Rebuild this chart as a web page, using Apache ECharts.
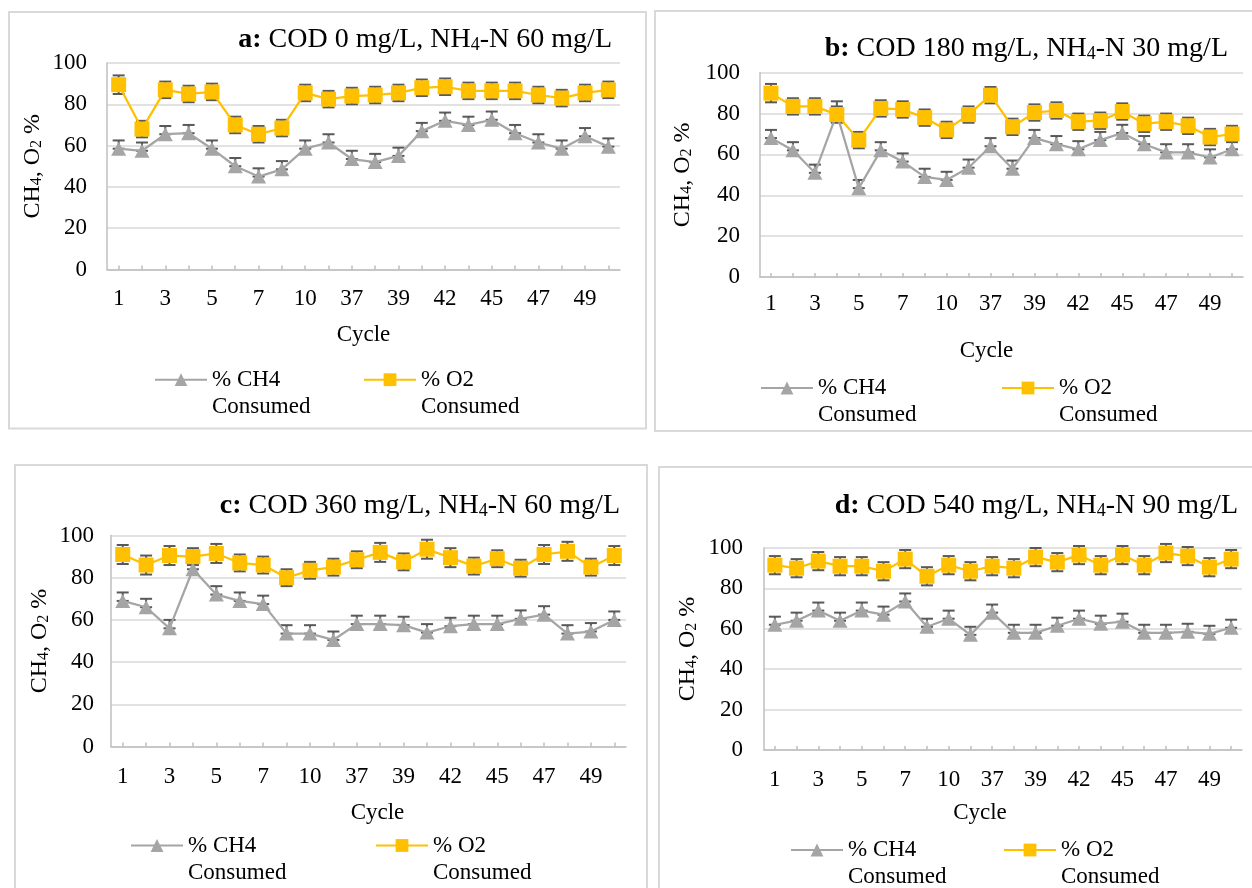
<!DOCTYPE html>
<html><head><meta charset="utf-8">
<script src="https://cdn.jsdelivr.net/npm/echarts@6/dist/echarts.min.js"></script>
<style>html,body{margin:0;padding:0;background:#fff}#c{width:1252px;height:888px}</style>
</head><body><div id="c"></div>
<script>
// ---------- data ----------
const cycles = ['1','2','3','4','5','6','7','8','10','36','37','38','39','41','42','43','45','46','47','48','49','50'];
const yTicks = [0, 20, 40, 60, 80, 100];

const ch4A = [58.5, 57.5, 65.5, 66, 58.5, 50, 45, 48.5, 58.5, 61.5, 53.5, 52, 55, 67, 72, 70, 72.5, 66, 61.5, 58.5, 64.5, 59.5];
const o2A  = [89.5, 68, 87, 85, 86, 70, 65.5, 68.5, 85.5, 82.5, 84, 84.5, 85.5, 88, 88.5, 86.5, 86.5, 86.5, 84.5, 83, 85.5, 87];
const ch4B = [68, 62, 51, 80, 43.5, 62, 56.5, 49, 47.5, 53.5, 64, 53, 68, 65, 62.5, 67, 70.5, 65, 61, 61, 58.5, 62.5];
const o2B  = [90, 83.5, 83.5, 79.5, 67, 82.5, 82, 78, 72, 79.5, 89, 73.5, 80.5, 81.5, 76, 76.5, 81, 75, 76, 74, 68.5, 70];
const ch4C = [69, 66, 56, 84, 72, 69, 67.5, 53.5, 53.5, 50.5, 58, 58, 57.5, 54, 57, 58, 58, 60.5, 62.5, 53.5, 54.5, 60];
const o2C  = [91, 86, 90.5, 90, 91.5, 87, 86, 80, 83.5, 85, 88.5, 92, 87.5, 93.5, 89.5, 85.5, 89, 84.5, 91, 92.5, 85, 90.5];
const ch4D = [62, 64, 69, 64, 69, 67, 73.5, 61, 65, 57, 68, 58, 58, 61.5, 65, 62.5, 63.5, 58, 58, 58.5, 57.5, 60.5];
const o2D  = [91.5, 90, 93.5, 91, 91, 88.5, 94.5, 86, 91.5, 88.5, 91, 90, 95.5, 93, 96.5, 91.5, 96.5, 91.5, 97.5, 96, 90.5, 94.5];

// error bar half-widths (read from the caps)
const ch4ErrA = [4, 4, 4, 4, 4, 4, 4, 4, 4, 4, 4, 4, 4, 4, 4, 4, 4, 4, 4, 4, 4, 4];
const o2ErrA  = [4.5, 4, 4, 4, 4, 4, 4, 4, 4, 4, 4, 4, 4, 4, 4, 4, 4, 4, 4, 4, 4, 4];
const ch4ErrB = [4, 4, 4, 6, 4, 4, 4, 4, 4, 4, 4, 4, 4, 4, 4, 4, 4, 4, 4, 4, 4, 4];
const o2ErrB  = [4.5, 4, 4, 4, 4, 4, 4, 4, 4, 4, 4, 4, 4, 4, 4, 4, 4, 4, 4, 4, 4, 4];
const ch4ErrC = [4, 4, 4, 4, 4, 4, 4, 4, 4, 4, 4, 4, 4, 4, 4, 4, 4, 4, 4, 4, 4, 4];
const o2ErrC  = [4.5, 4.5, 4.5, 4, 4.5, 4, 4, 4, 4, 4, 4, 4.5, 4, 4.5, 4.5, 4, 4, 4, 4.5, 4.5, 4, 4.5];
const ch4ErrD = [4, 4, 4, 4, 4, 4, 4, 4, 4, 4, 4, 4, 4, 4, 4, 4, 4, 4, 4, 4, 4, 4];
const o2ErrD  = [4.5, 4.5, 4.5, 4.5, 4.5, 4.5, 4.5, 4.5, 4.5, 4.5, 4.5, 4.5, 4.5, 4.5, 4.5, 4.5, 4.5, 4.5, 4.5, 4.5, 4.5, 4.5];

const titleA = ['a:', 'COD 0 mg/L, NH', '4', '-N 60 mg/L'];
const titleB = ['b:', 'COD 180 mg/L, NH', '4', '-N 30 mg/L'];
const titleC = ['c:', 'COD 360 mg/L, NH', '4', '-N 60 mg/L'];
const titleD = ['d:', 'COD 540 mg/L, NH', '4', '-N 90 mg/L'];
const xName = 'Cycle';
const ch4Name = '% CH4 Consumed';
const o2Name = '% O2 Consumed';

// ---------- layout (positions / styles only) ----------
const FONT = 'Liberation Serif';
const panels = [
  {title: titleA, ch4: ch4A, o2: o2A, ch4Err: ch4ErrA, o2Err: o2ErrA,
   grid: {left: 107, top: 63, width: 513, height: 206.5}, titleRight: 640, titleTop: 23,
   yMargin: 20, xMargin: 18, nameGap: 54, namePad: [0,0,0,0], yNameGap: 62,
   leg: [{left: 154, y: 381.7}, {left: 363, y: 381.7}],
   border: {x: 9, y: 12, width: 637, height: 416.5}},
  {title: titleB, ch4: ch4B, o2: o2B, ch4Err: ch4ErrB, o2Err: o2ErrB,
   grid: {left: 760, top: 72.7, width: 483, height: 204.3}, titleRight: 24, titleTop: 32,
   yMargin: 20, xMargin: 15.5, nameGap: 62, namePad: [0,30,0,0], yNameGap: 65,
   leg: [{left: 760, y: 390}, {left: 1001, y: 390}],
   border: {x: 655, y: 11, width: 620, height: 420}},
  {title: titleC, ch4: ch4C, o2: o2C, ch4Err: ch4ErrC, o2Err: o2ErrC,
   grid: {left: 111, top: 535.5, width: 515, height: 211}, titleRight: 632, titleTop: 489,
   yMargin: 17, xMargin: 18.5, nameGap: 55, namePad: [0,0,0,18], yNameGap: 59,
   leg: [{left: 130, y: 847.5}, {left: 375, y: 847.5}],
   border: {x: 15, y: 465, width: 632, height: 450}},
  {title: titleD, ch4: ch4D, o2: o2D, ch4Err: ch4ErrD, o2Err: o2ErrD,
   grid: {left: 764, top: 548, width: 478, height: 202}, titleRight: 14, titleTop: 489,
   yMargin: 21, xMargin: 18.5, nameGap: 51, namePad: [0,46,0,0], yNameGap: 64,
   leg: [{left: 790, y: 852}, {left: 1003, y: 852}],
   border: {x: 659, y: 467, width: 620, height: 450}}
];

const CH4_COLOR = '#A5A5A5';
const O2_COLOR = '#FFC000';
const ERR_COLOR = '#595959';
const LEG_LH = 27;

function errRender(params, api) {
  const x = api.value(0), lo = api.value(1), hi = api.value(2);
  const pLo = api.coord([x, lo]), pHi = api.coord([x, hi]);
  const hw = 6;
  const st = {stroke: ERR_COLOR, lineWidth: 2};
  return {type: 'group', children: [
    {type: 'line', shape: {x1: pLo[0], y1: pLo[1], x2: pHi[0], y2: pHi[1]}, style: st},
    {type: 'line', shape: {x1: pLo[0]-hw, y1: pLo[1], x2: pLo[0]+hw, y2: pLo[1]}, style: st},
    {type: 'line', shape: {x1: pHi[0]-hw, y1: pHi[1], x2: pHi[0]+hw, y2: pHi[1]}, style: st}
  ]};
}

const option = {
  backgroundColor: '#fff',
  animation: false,
  title: [], grid: [], xAxis: [], yAxis: [], series: [], legend: [],
  graphic: panels.map(p => ({type: 'rect', silent: true, z: -10,
    shape: p.border, style: {fill: 'none', stroke: '#D9D9D9', lineWidth: 2}}))
};

const richT = {
  b: {fontFamily: FONT, fontSize: 28, fontWeight: 'bold', color: '#000', lineHeight: 31, verticalAlign: 'bottom'},
  n: {fontFamily: FONT, fontSize: 28, color: '#000', lineHeight: 31, verticalAlign: 'bottom'},
  s: {fontFamily: FONT, fontSize: 18, color: '#000', lineHeight: 14, verticalAlign: 'bottom'}
};
const richY = {
  n: {fontFamily: FONT, fontSize: 24, color: '#000', lineHeight: 27, verticalAlign: 'bottom'},
  s: {fontFamily: FONT, fontSize: 16, color: '#000', lineHeight: 12, verticalAlign: 'bottom'}
};
const richL = {
  p: {fontFamily: FONT, fontSize: 23, lineHeight: LEG_LH},
  t: {fontFamily: FONT, fontSize: 23, color: '#000', lineHeight: LEG_LH}
};

panels.forEach((p, i) => {
  const t = p.title;
  option.title.push({
    text: '{b|' + t[0] + '}{n| ' + t[1] + '}{s|' + t[2] + '}{n|' + t[3] + '}',
    right: p.titleRight, top: p.titleTop, padding: 0,
    textStyle: {fontFamily: FONT, fontSize: 28, fontWeight: 'normal', color: '#000', rich: richT}
  });
  option.grid.push(Object.assign({containLabel: false}, p.grid));
  option.xAxis.push({
    type: 'category', gridIndex: i, data: cycles, boundaryGap: true,
    name: xName, nameLocation: 'middle', nameGap: p.nameGap,
    nameTextStyle: {fontFamily: FONT, fontSize: 23, color: '#000', padding: p.namePad},
    axisLine: {lineStyle: {color: '#BFBFBF', width: 1.5}},
    axisTick: {show: true, inside: true, length: 4, alignWithLabel: true, interval: 0, lineStyle: {color: '#BFBFBF', width: 1.5}},
    axisLabel: {interval: 1, fontFamily: FONT, fontSize: 23, color: '#000', margin: p.xMargin},
    splitLine: {show: false}
  });
  option.yAxis.push({
    type: 'value', gridIndex: i, min: yTicks[0], max: yTicks[yTicks.length-1], interval: yTicks[1]-yTicks[0],
    name: '{n|CH}{s|4}{n|, O}{s|2}{n| %}', nameLocation: 'middle', nameGap: p.yNameGap, nameRotate: 90,
    nameTextStyle: {rich: richY},
    axisLine: {show: true, lineStyle: {color: '#BFBFBF', width: 1.5}},
    axisTick: {show: false},
    axisLabel: {fontFamily: FONT, fontSize: 23, color: '#000', margin: p.yMargin},
    splitLine: {lineStyle: {color: '#D9D9D9', width: 1.5}}
  });
  // error bars
  option.series.push({
    type: 'custom', name: 'errCH4_' + i, xAxisIndex: i, yAxisIndex: i, z: 1,
    renderItem: errRender, encode: {x: 0, y: [1, 2]},
    data: p.ch4.map((v, k) => [k, v, v + p.ch4Err[k]])
  });
  option.series.push({
    type: 'custom', name: 'errO2_' + i, xAxisIndex: i, yAxisIndex: i, z: 1,
    renderItem: errRender, encode: {x: 0, y: [1, 2]},
    data: p.o2.map((v, k) => [k, v - p.o2Err[k], v + p.o2Err[k]])
  });
  option.series.push({
    type: 'line', name: ch4Name, xAxisIndex: i, yAxisIndex: i, z: 3,
    data: p.ch4, symbol: 'triangle', symbolSize: [15, 14], showAllSymbol: true,
    itemStyle: {color: CH4_COLOR}, lineStyle: {color: CH4_COLOR, width: 2.25}
  });
  option.series.push({
    type: 'line', name: o2Name, xAxisIndex: i, yAxisIndex: i, z: 3,
    data: p.o2, symbol: 'rect', symbolSize: 15, showAllSymbol: true,
    itemStyle: {color: O2_COLOR}, lineStyle: {color: O2_COLOR, width: 2.25}
  });
  [ch4Name, o2Name].forEach((nm, j) => {
    option.legend.push({
      data: [nm], left: p.leg[j].left, top: p.leg[j].y - 1.5 * LEG_LH, padding: 0,
      itemWidth: 52, itemHeight: 16, itemGap: 0, selectedMode: false,
      formatter: s => {
        const parts = s.split(' Consumed');
        return '{p| }\n{t|' + parts[0] + '}\n{t|Consumed}';
      },
      textStyle: {fontFamily: FONT, fontSize: 23, color: '#000', rich: richL}
    });
  });
});

const chart = echarts.init(document.getElementById('c'), null, {renderer: 'canvas'});
chart.setOption(option);
</script></body></html>
